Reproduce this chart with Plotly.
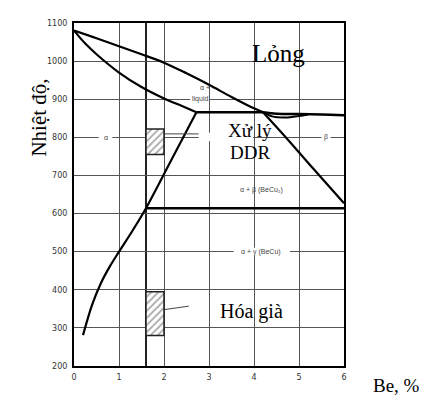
import plotly.graph_objects as go

# ---------------- data ----------------
liquidus_x = [0, 0.5, 1.0, 1.5, 2.0, 2.5, 3.0, 3.5, 4.0, 4.2]
liquidus_t = [1080, 1060, 1039, 1018, 996, 968, 938, 906, 876, 866]

solidus_x = [0, 0.25, 0.5, 1.0, 1.5, 2.0, 2.4, 2.72]
solidus_t = [1080, 1046, 1018, 970, 932, 902, 882, 866]

peritectic_x = [2.72, 4.2]
peritectic_t = [866, 866]

beta_liq_x = [4.2, 4.5, 5.0, 5.5, 6.0]
beta_liq_t = [866, 862, 861, 860, 858]
beta_sol_x = [4.2, 4.4, 4.7, 5.0, 5.2]
beta_sol_t = [866, 855, 852, 856, 860]

beta_solvus_x = [4.2, 4.7, 5.3, 6.0]
beta_solvus_t = [866, 801, 720, 627]

alpha_solvus_x = [2.72, 2.16, 1.6, 1.3, 1.0, 0.8, 0.6, 0.4, 0.2]
alpha_solvus_t = [866, 740, 614, 555, 500, 462, 418, 360, 281]

eutectoid_x = [1.6, 6.0]
eutectoid_t = [614, 614]

band_x = [1.6, 2.0]
treat_t = [755, 822]
aging_t = [280, 395]

treat_leader_x = [2.0, 2.77]
treat_leader_t = [809, 809]
aging_leader_x = [1.95, 2.55]
aging_leader_t = [347, 357]

x_ticks = [0, 1, 2, 3, 4, 5, 6]
y_ticks = [200, 300, 400, 500, 600, 700, 800, 900, 1000, 1100]

fig = go.Figure()

def line(x, y, w=2.2, color="black", smooth=True):
    fig.add_trace(go.Scatter(x=x, y=y, mode="lines",
                             line=dict(color=color, width=w,
                                       shape="spline" if smooth else "linear",
                                       smoothing=0.9),
                             hoverinfo="skip", showlegend=False))

line(liquidus_x, liquidus_t)
line(solidus_x, solidus_t)
line(peritectic_x, peritectic_t, 2.5, smooth=False)
line(beta_liq_x, beta_liq_t, 2.5)
line(beta_sol_x, beta_sol_t, 2.0)
line(beta_solvus_x, beta_solvus_t)
line(alpha_solvus_x, alpha_solvus_t)
line(eutectoid_x, eutectoid_t, 2.5, smooth=False)
line(treat_leader_x, treat_leader_t, 1.0, "#444", smooth=False)
line(aging_leader_x, aging_leader_t, 1.0, "#444", smooth=False)

for t in (treat_t, aging_t):
    xs = [band_x[0], band_x[1], band_x[1], band_x[0], band_x[0]]
    ys = [t[0], t[0], t[1], t[1], t[0]]
    fig.add_trace(go.Scatter(x=xs, y=ys, mode="lines", fill="toself",
                             fillcolor="white",
                             fillpattern=dict(shape="/", fgcolor="#555", bgcolor="white",
                                              size=5, solidity=0.35),
                             line=dict(color="#222", width=1.5),
                             hoverinfo="skip", showlegend=False))

# gaps in gridlines (white boxes between grid and traces)
gaps = [
    (0.55, 0.85, 790, 812),    # alpha label
    (2.77, 3.1, 790, 812),
    (3.08, 3.98, 726, 858),    # Xu ly DDR box
    (5.5, 5.7, 790, 812),      # beta label
    (2.58, 3.0, 890, 910),     # liquid label
    (3.55, 4.8, 490, 510),     # alpha+gamma label
]
for x0, x1, y0, y1 in gaps:
    fig.add_shape(type="rect", x0=x0, x1=x1, y0=y0, y1=y1, layer="between",
                  line=dict(width=0), fillcolor="white")

small = dict(family="Liberation Sans, Arial", size=7, color="#444")
small_labels = [
    ("α", 0.71, 800), ("β", 5.6, 800), ("α +", 2.9, 930), ("liquid", 2.8, 900),
    ("α + β (BeCu₂)", 4.17, 662), ("α + γ (BeCu)", 4.15, 500),
]
for txt, x, y in small_labels:
    fig.add_annotation(x=x, y=y, text=txt, showarrow=False, font=small)

serif = "Liberation Serif, Times New Roman, serif"
big_labels = [
    ("Lỏng", 4.55, 1021, 25), ("Xử lý", 3.92, 817, 19),
    ("DDR", 3.9, 761, 19), ("Hóa già", 3.95, 344, 20),
]
for txt, x, y, s in big_labels:
    fig.add_annotation(x=x, y=y, text=txt, showarrow=False,
                       font=dict(family=serif, size=s, color="black"))

fig.add_annotation(xref="paper", yref="paper", x=-0.18, y=0.845, text="Nhiệt độ,",
                   textangle=-90, showarrow=False,
                   font=dict(family=serif, size=21, color="black"))
fig.add_annotation(xref="paper", yref="paper", x=1.289, y=-0.093, text="Be, %",
                   showarrow=False, font=dict(family=serif, size=19, color="black"))

tickfont = dict(family="DejaVu Sans", size=8, color="#333")
fig.update_xaxes(range=[0, 6], tickvals=x_ticks, ticktext=[str(v) for v in x_ticks],
                 showgrid=True, gridcolor="#555", gridwidth=1.4,
                 minor=dict(tickvals=[1.6], showgrid=True, gridcolor="#222", gridwidth=1.6),
                 showline=True, mirror=True, linecolor="black", linewidth=2,
                 ticks="", zeroline=False, tickfont=tickfont, ticklabelstandoff=2)
fig.update_yaxes(range=[200, 1100], tickvals=y_ticks, ticktext=[str(v) for v in y_ticks],
                 showgrid=True, gridcolor="#555", gridwidth=1.4,
                 showline=True, mirror=True, linecolor="black", linewidth=2,
                 ticks="", zeroline=False, tickfont=tickfont, ticklabelstandoff=3)

fig.update_layout(width=442, height=398, autosize=False,
                  margin=dict(l=66, r=106, t=15, b=40),
                  plot_bgcolor="white", paper_bgcolor="white", showlegend=False)

fig.write_html("out.html")
